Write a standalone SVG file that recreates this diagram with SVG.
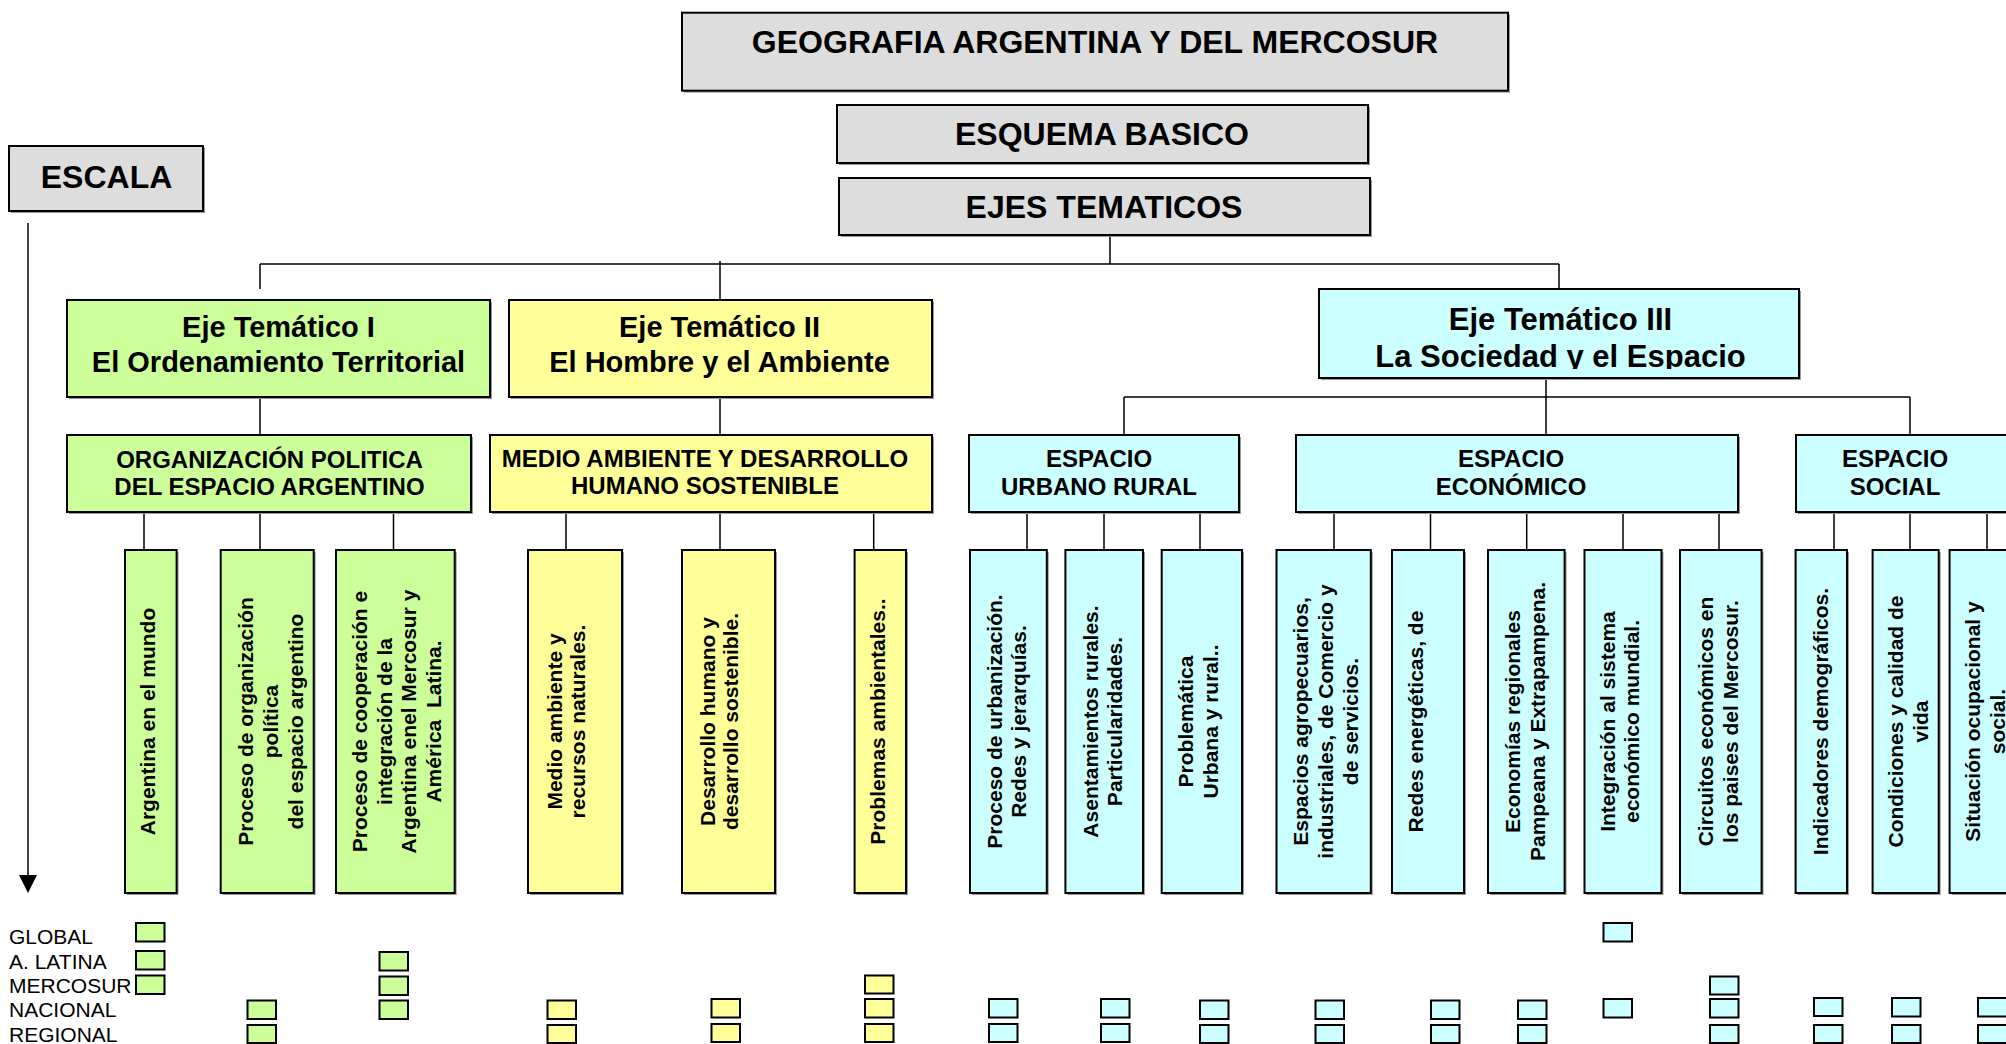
<svg xmlns="http://www.w3.org/2000/svg" width="2006" height="1044" viewBox="0 0 2006 1044">
<style>
.bx{stroke:#000;stroke-width:2}
.sh{fill:#9a9a9a}
.gr{fill:#DDDDDD}
.gn{fill:#CCFF99}
.yl{fill:#FFFF99}
.cy{fill:#CCFFFF}
.t{font-family:"Liberation Sans",Arial,sans-serif;font-weight:bold;fill:#000;text-anchor:middle}
.v{font-family:"Liberation Sans",Arial,sans-serif;font-weight:bold;font-size:21px;fill:#000;text-anchor:middle;white-space:pre}
.lg{font-family:"Liberation Sans",Arial,sans-serif;font-size:21px;fill:#000}
.cn{fill:none;stroke:#000;stroke-width:1.5}
.sq{stroke:#000;stroke-width:2}
</style>
<defs>
<clipPath id="clip3"><rect x="1319" y="289" width="480" height="80"/></clipPath>
</defs>
<rect width="2006" height="1044" fill="#fff"/>

<g id="connectors">
<path class="cn" d="M1110,235V264M260,264H1559M260,264V289M720,261V300M1559,264V289M260,397V435M720,397V435M1546,378V435M1124,397H1910M1124,397V435M1910,397V435M144,512V550M260,512V550M393.5,512V550M566,512V550M720,512V550M873.7,512V550M1027,512V550M1104,512V550M1200,512V550M1334,512V550M1430.5,512V550M1526.7,512V550M1623,512V550M1719,512V550M1834,512V550M1910,512V550M1987,512V550"/>
<path class="cn" d="M28,223V878"/>
<polygon points="19,875 37,875 28,893" fill="#000"/>
</g>

<g id="n_geografia">
<rect class="sh" x="684" y="14.7" width="826" height="78"/>
<rect class="bx gr" x="682" y="12.7" width="826" height="78"/>
<text class="t" x="1095" y="53" font-size="32">GEOGRAFIA ARGENTINA Y DEL MERCOSUR</text>
</g>
<g id="n_esquema">
<rect class="sh" x="839" y="107" width="531" height="58"/>
<rect class="bx gr" x="837" y="105" width="531" height="58"/>
<text class="t" x="1102" y="145" font-size="32">ESQUEMA BASICO</text>
</g>
<g id="n_ejes">
<rect class="sh" x="841" y="180" width="531" height="57"/>
<rect class="bx gr" x="839" y="178" width="531" height="57"/>
<text class="t" x="1104" y="218" font-size="32">EJES TEMATICOS</text>
</g>
<g id="n_escala">
<rect class="sh" x="11" y="148" width="194" height="65"/>
<rect class="bx gr" x="9" y="146" width="194" height="65"/>
<text class="t" x="106.5" y="188" font-size="32">ESCALA</text>
</g>

<g id="n_eje1">
<rect class="sh" x="69" y="302" width="423" height="97"/>
<rect class="bx gn" x="67" y="300" width="423" height="97"/>
<text class="t" font-size="29"><tspan x="278.5" y="337">Eje Temático I</tspan><tspan x="278.5" y="372">El Ordenamiento Territorial</tspan></text>
</g>
<g id="n_eje2">
<rect class="sh" x="511" y="302" width="423" height="97"/>
<rect class="bx yl" x="509" y="300" width="423" height="97"/>
<text class="t" font-size="29"><tspan x="719.5" y="337">Eje Temático II</tspan><tspan x="719.5" y="372">El Hombre y el Ambiente</tspan></text>
</g>
<g id="n_eje3">
<rect class="sh" x="1321" y="291" width="480" height="89"/>
<rect class="bx cy" x="1319" y="289" width="480" height="89"/>
<text class="t" font-size="31" clip-path="url(#clip3)"><tspan x="1560.5" y="330">Eje Temático III</tspan><tspan x="1560.5" y="367">La Sociedad y el Espacio</tspan></text>
</g>

<g id="n_org">
<rect class="sh" x="69" y="437" width="404" height="77"/>
<rect class="bx gn" x="67" y="435" width="404" height="77"/>
<text class="t" font-size="24"><tspan x="269.5" y="468">ORGANIZACIÓN POLITICA</tspan><tspan x="269.5" y="495">DEL ESPACIO ARGENTINO</tspan></text>
</g>
<g id="n_medio">
<rect class="sh" x="492" y="437" width="442" height="77"/>
<rect class="bx yl" x="490" y="435" width="442" height="77"/>
<text class="t" font-size="24"><tspan x="705" y="467">MEDIO AMBIENTE Y DESARROLLO</tspan><tspan x="705" y="494">HUMANO SOSTENIBLE</tspan></text>
</g>
<g id="n_urbano">
<rect class="sh" x="971" y="437" width="270" height="77"/>
<rect class="bx cy" x="969" y="435" width="270" height="77"/>
<text class="t" font-size="24"><tspan x="1099" y="467">ESPACIO</tspan><tspan x="1099" y="495">URBANO RURAL</tspan></text>
</g>
<g id="n_economico">
<rect class="sh" x="1298" y="437" width="442" height="77"/>
<rect class="bx cy" x="1296" y="435" width="442" height="77"/>
<text class="t" font-size="24"><tspan x="1511" y="467">ESPACIO</tspan><tspan x="1511" y="495">ECONÓMICO</tspan></text>
</g>
<g id="n_social">
<rect class="sh" x="1798" y="437" width="216" height="77"/>
<rect class="bx cy" x="1796" y="435" width="216" height="77"/>
<text class="t" font-size="24"><tspan x="1895" y="467">ESPACIO</tspan><tspan x="1895" y="495">SOCIAL</tspan></text>
</g>

<g id="n_g1">
<rect class="sh" x="127" y="552" width="51.6" height="343"/>
<rect class="bx gn" x="125" y="550" width="51.6" height="343"/>
<text class="v" transform="translate(0,721.5) rotate(-90)"><tspan x="0" y="155">Argentina en el mundo</tspan></text>
</g>
<g id="n_g2">
<rect class="sh" x="222.7" y="552" width="93" height="343"/>
<rect class="bx gn" x="220.7" y="550" width="93" height="343"/>
<text class="v" transform="translate(0,721.5) rotate(-90)"><tspan x="0" y="253">Proceso de organización</tspan><tspan x="0" y="278">política</tspan><tspan x="0" y="303">del espacio argentino</tspan></text>
</g>
<g id="n_g3">
<rect class="sh" x="338" y="552" width="118.7" height="343"/>
<rect class="bx gn" x="336" y="550" width="118.7" height="343"/>
<text class="v" transform="translate(0,721.5) rotate(-90)"><tspan x="0" y="367">Proceso de cooperación e</tspan><tspan x="0" y="391.5">integración de la</tspan><tspan x="0" y="416">Argentina enel Mercosur y</tspan><tspan x="0" y="440.5">América  Latina.</tspan></text>
</g>

<g id="n_y1">
<rect class="sh" x="530" y="552" width="94" height="343"/>
<rect class="bx yl" x="528" y="550" width="94" height="343"/>
<text class="v" transform="translate(0,721.5) rotate(-90)"><tspan x="0" y="562">Medio ambiente y</tspan><tspan x="0" y="585">recursos naturales.</tspan></text>
</g>
<g id="n_y2">
<rect class="sh" x="684" y="552" width="93" height="343"/>
<rect class="bx yl" x="682" y="550" width="93" height="343"/>
<text class="v" transform="translate(0,721.5) rotate(-90)"><tspan x="0" y="715">Desarrollo humano y</tspan><tspan x="0" y="738">desarrollo sostenible.</tspan></text>
</g>
<g id="n_y3">
<rect class="sh" x="856.6" y="552" width="51.4" height="343"/>
<rect class="bx yl" x="854.6" y="550" width="51.4" height="343"/>
<text class="v" transform="translate(0,721.5) rotate(-90)"><tspan x="0" y="885">Problemas ambientales..</tspan></text>
</g>

<g id="n_c1">
<rect class="sh" x="972" y="552" width="76.8" height="343"/>
<rect class="bx cy" x="970" y="550" width="76.8" height="343"/>
<text class="v" transform="translate(0,721.5) rotate(-90)"><tspan x="0" y="1002">Proceso de urbanización.</tspan><tspan x="0" y="1026">Redes y jerarquías.</tspan></text>
</g>
<g id="n_c2">
<rect class="sh" x="1067.4" y="552" width="77.6" height="343"/>
<rect class="bx cy" x="1065.4" y="550" width="77.6" height="343"/>
<text class="v" transform="translate(0,721.5) rotate(-90)"><tspan x="0" y="1098">Asentamientos rurales.</tspan><tspan x="0" y="1122">Particularidades.</tspan></text>
</g>
<g id="n_c3">
<rect class="sh" x="1163.7" y="552" width="80.3" height="343"/>
<rect class="bx cy" x="1161.7" y="550" width="80.3" height="343"/>
<text class="v" transform="translate(0,721.5) rotate(-90)"><tspan x="0" y="1193">Problemática</tspan><tspan x="0" y="1218">Urbana y rural..</tspan></text>
</g>
<g id="n_c4">
<rect class="sh" x="1278.5" y="552" width="94.3" height="343"/>
<rect class="bx cy" x="1276.5" y="550" width="94.3" height="343"/>
<text class="v" transform="translate(0,721.5) rotate(-90)"><tspan x="0" y="1308">Espacios agropecuarios,</tspan><tspan x="0" y="1333">industriales, de Comercio y</tspan><tspan x="0" y="1358">de servicios.</tspan></text>
</g>
<g id="n_c5">
<rect class="sh" x="1394" y="552" width="72" height="343"/>
<rect class="bx cy" x="1392" y="550" width="72" height="343"/>
<text class="v" transform="translate(0,721.5) rotate(-90)"><tspan x="0" y="1423">Redes energéticas, de</tspan></text>
</g>
<g id="n_c6">
<rect class="sh" x="1490" y="552" width="76.6" height="343"/>
<rect class="bx cy" x="1488" y="550" width="76.6" height="343"/>
<text class="v" transform="translate(0,721.5) rotate(-90)"><tspan x="0" y="1520">Economías regionales</tspan><tspan x="0" y="1545">Pampeana y Extrapampena.</tspan></text>
</g>
<g id="n_c7">
<rect class="sh" x="1586.5" y="552" width="77" height="343"/>
<rect class="bx cy" x="1584.5" y="550" width="77" height="343"/>
<text class="v" transform="translate(0,721.5) rotate(-90)"><tspan x="0" y="1615">Integración al sistema</tspan><tspan x="0" y="1639">económico mundial.</tspan></text>
</g>
<g id="n_c8">
<rect class="sh" x="1682" y="552" width="81.6" height="343"/>
<rect class="bx cy" x="1680" y="550" width="81.6" height="343"/>
<text class="v" transform="translate(0,721.5) rotate(-90)"><tspan x="0" y="1713">Circuitos económicos en</tspan><tspan x="0" y="1738">los paises del Mercosur.</tspan></text>
</g>
<g id="n_c9">
<rect class="sh" x="1797.6" y="552" width="51.4" height="343"/>
<rect class="bx cy" x="1795.6" y="550" width="51.4" height="343"/>
<text class="v" transform="translate(0,721.5) rotate(-90)"><tspan x="0" y="1828">Indicadores demográficos.</tspan></text>
</g>
<g id="n_c10">
<rect class="sh" x="1874.6" y="552" width="66.1" height="343"/>
<rect class="bx cy" x="1872.6" y="550" width="66.1" height="343"/>
<text class="v" transform="translate(0,721.5) rotate(-90)"><tspan x="0" y="1903">Condiciones y calidad de</tspan><tspan x="0" y="1928">vida</tspan></text>
</g>
<g id="n_c11">
<rect class="sh" x="1951.6" y="552" width="80" height="343"/>
<rect class="bx cy" x="1949.6" y="550" width="80" height="343"/>
<text class="v" transform="translate(0,721.5) rotate(-90)"><tspan x="0" y="1980">Situación ocupacional y</tspan><tspan x="0" y="2005">social.</tspan></text>
</g>

<g id="legend">
<text class="lg" x="9" y="944">GLOBAL</text>
<text class="lg" x="9" y="968.5">A. LATINA</text>
<text class="lg" x="9" y="993">MERCOSUR</text>
<text class="lg" x="9" y="1017">NACIONAL</text>
<text class="lg" x="9" y="1041.5">REGIONAL</text>
</g>

<g id="marks">
<g class="gn">
<rect class="sq" x="136" y="923" width="28.5" height="18.5"/>
<rect class="sq" x="136" y="951" width="28.5" height="18.5"/>
<rect class="sq" x="136" y="975.5" width="28.5" height="18.5"/>
<rect class="sq" x="247.5" y="1000.5" width="28.5" height="18.5"/>
<rect class="sq" x="247.5" y="1025" width="28.5" height="18"/>
<rect class="sq" x="379.5" y="952" width="28.5" height="18.5"/>
<rect class="sq" x="379.5" y="976.5" width="28.5" height="18.5"/>
<rect class="sq" x="379.5" y="1000.5" width="28.5" height="18.5"/>
</g>
<g class="yl">
<rect class="sq" x="547.5" y="1000.5" width="28.5" height="18.5"/>
<rect class="sq" x="547.5" y="1025" width="28.5" height="18"/>
<rect class="sq" x="711.5" y="999" width="28.5" height="18.5"/>
<rect class="sq" x="711.5" y="1024" width="28.5" height="18"/>
<rect class="sq" x="865" y="975.5" width="28.5" height="18"/>
<rect class="sq" x="865" y="999" width="28.5" height="18.5"/>
<rect class="sq" x="865" y="1024" width="28.5" height="18"/>
</g>
<g class="cy">
<rect class="sq" x="989" y="999" width="28.5" height="18.5"/>
<rect class="sq" x="989" y="1024" width="28.5" height="18"/>
<rect class="sq" x="1101" y="999" width="28.5" height="18.5"/>
<rect class="sq" x="1101" y="1024" width="28.5" height="18"/>
<rect class="sq" x="1200" y="1000.5" width="28.5" height="18.5"/>
<rect class="sq" x="1200" y="1025" width="28.5" height="18"/>
<rect class="sq" x="1315.5" y="1000.5" width="28.5" height="18.5"/>
<rect class="sq" x="1315.5" y="1025" width="28.5" height="18"/>
<rect class="sq" x="1431" y="1000.5" width="28.5" height="18.5"/>
<rect class="sq" x="1431" y="1025" width="28.5" height="18"/>
<rect class="sq" x="1518" y="1000.5" width="28.5" height="18.5"/>
<rect class="sq" x="1518" y="1025" width="28.5" height="18"/>
<rect class="sq" x="1603.5" y="923" width="28.5" height="18.5"/>
<rect class="sq" x="1603.5" y="999" width="28.5" height="18.5"/>
<rect class="sq" x="1710" y="976.5" width="28.5" height="18"/>
<rect class="sq" x="1710" y="999" width="28.5" height="18.5"/>
<rect class="sq" x="1710" y="1025" width="28.5" height="18"/>
<rect class="sq" x="1814" y="998" width="28.5" height="18"/>
<rect class="sq" x="1814" y="1025" width="28.5" height="18"/>
<rect class="sq" x="1892" y="998" width="28.5" height="18.5"/>
<rect class="sq" x="1892" y="1025" width="28.5" height="18"/>
<rect class="sq" x="1978" y="998" width="30" height="18.5"/>
<rect class="sq" x="1978" y="1025" width="30" height="18"/>
</g>
</g>
</svg>
